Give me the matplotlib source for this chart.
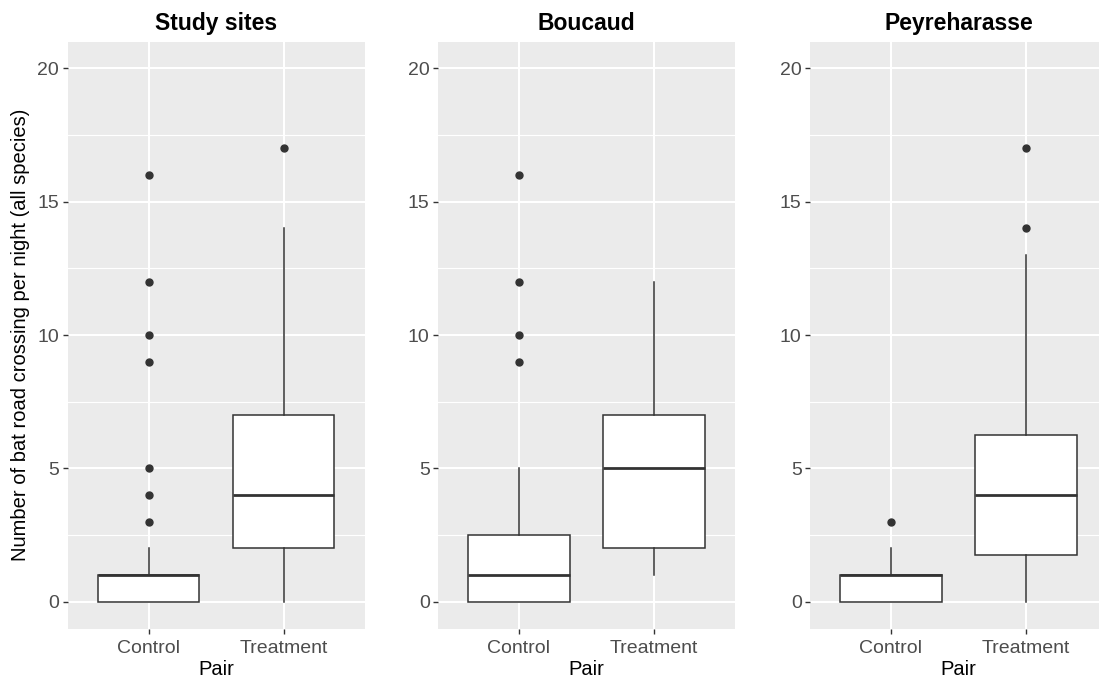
"""Bat road crossings per night: control vs treatment, three facets (ggplot look)."""
import matplotlib
matplotlib.use("Agg")
import matplotlib.pyplot as plt

plt.rcParams["font.family"] = ["Liberation Sans", "DejaVu Sans"]

# ── data (box summaries) ─────────────────────────────────────────────────
panels = ["Study sites", "Boucaud", "Peyreharasse"]
groups = ["Control", "Treatment"]
q1 = [[0, 2], [0, 2], [0, 1.75]]
med = [[1, 4], [1, 5], [1, 4]]
q3 = [[1, 7], [2.5, 7], [1, 6.25]]
whislo = [[0, 0], [0, 1], [0, 0]]
whishi = [[2, 14], [5, 12], [2, 13]]
fliers = [
    [[3, 4, 5, 9, 10, 12, 16], [17]],
    [[9, 10, 12, 16], []],
    [[3], [14, 17]],
]
y_ticks = [0, 5, 10, 15, 20]
y_minor = [2.5, 7.5, 12.5, 17.5]

BG = "#EBEBEB"
INK = "#333333"
TICK_TXT = "#4D4D4D"

W, H = 1099, 686
fig = plt.figure(figsize=(W / 100, H / 100), dpi=100)

lefts = [67.5, 438.0, 810.0]
ax_w = 297.0
ax_top, ax_bot = 41.5, 628.5

for i, name in enumerate(panels):
    ax = fig.add_axes([lefts[i] / W, 1 - ax_bot / H, ax_w / W, (ax_bot - ax_top) / H])
    ax.set_facecolor(BG)
    for s in ax.spines.values():
        s.set_visible(False)

    stats = []
    for j, g in enumerate(groups):
        stats.append(dict(label=g, q1=q1[i][j], med=med[i][j], q3=q3[i][j],
                          whislo=whislo[i][j], whishi=whishi[i][j],
                          fliers=fliers[i][j]))
    ax.bxp(stats, positions=[1, 2], widths=0.75, showcaps=False, patch_artist=True,
           boxprops=dict(facecolor="white", edgecolor=INK, linewidth=1.1),
           whiskerprops=dict(color=INK, linewidth=1.1),
           medianprops=dict(color=INK, linewidth=2.0),
           flierprops=dict(marker="o", markerfacecolor=INK, markeredgecolor=INK,
                           markersize=5, linestyle="none"),
           zorder=3)

    ax.set_xlim(0.4, 2.6)
    ax.set_ylim(-1, 21)
    ax.set_yticks(y_ticks)
    ax.set_yticks(y_minor, minor=True)
    ax.set_xticks([1, 2])
    ax.set_xticklabels(groups)
    ax.grid(True, which="major", color="white", linewidth=1.5, zorder=0)
    ax.grid(True, which="minor", axis="y", color="white", linewidth=0.8, zorder=0)
    ax.set_axisbelow(True)
    ax.tick_params(which="major", length=3.5, width=1.0, color=INK,
                   labelcolor=TICK_TXT, labelsize=14, pad=2.5)
    ax.tick_params(axis="x", which="major", pad=4.5)
    ax.tick_params(which="minor", length=0)

    ax.set_title(name, fontsize=16.5, fontweight="bold", pad=8)
    ax.set_xlabel("Pair", fontsize=14.5, labelpad=2.5)
    if i == 0:
        ax.set_ylabel("Number of bat road crossing per night (all species)",
                      fontsize=14.5, labelpad=5)

fig.savefig("out.png", dpi=100)
